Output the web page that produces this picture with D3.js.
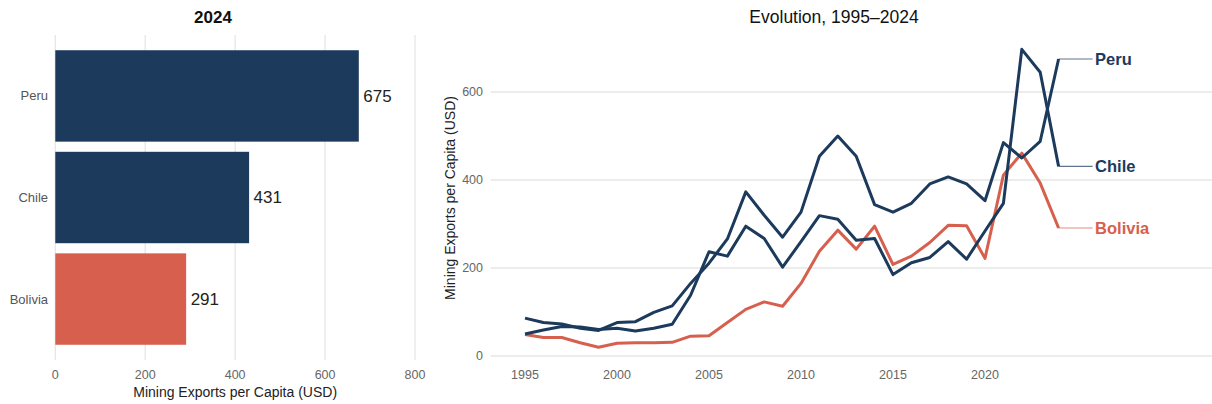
<!DOCTYPE html>
<html>
  <head>
    <meta charset="utf-8" />
    <title>Mining exports per capita</title>
    <script src="https://d3js.org/d3.v7.min.js"></script>
    <style>
      body { margin: 0; background: #fff; }
      text { font-family: "Liberation Sans", Arial, sans-serif; }
    </style>
  </head>
  <body>
    <script>
      // 2024 snapshot
      const countries = ["Peru", "Chile", "Bolivia"];
      const values2024 = [675, 431, 291];

      // evolution 1995-2024
      const years = [1995, 1996, 1997, 1998, 1999, 2000, 2001, 2002, 2003, 2004,
                     2005, 2006, 2007, 2008, 2009, 2010, 2011, 2012, 2013, 2014,
                     2015, 2016, 2017, 2018, 2019, 2020, 2021, 2022, 2023, 2024];
      const peru = [86, 76, 73, 63, 58, 76, 78, 99, 114, 165,
                    211, 266, 373, 320, 270, 327, 454, 500, 454, 344,
                    327, 347, 391, 407, 391, 353, 485, 450, 488, 675];
      const chile = [50, 59, 67, 66, 60, 63, 57, 63, 72, 138,
                     237, 227, 295, 267, 202, 260, 319, 311, 263, 267,
                     185, 212, 224, 260, 220, 284, 347, 697, 645, 431];
      const bolivia = [49, 42, 42, 30, 20, 29, 30, 30, 31, 45,
                       46, 76, 106, 123, 113, 165, 238, 286, 243, 295,
                       208, 227, 258, 297, 296, 222, 411, 461, 393, 291];

      const xTicksBar = [0, 200, 400, 600, 800];
      const yTicksLine = [0, 200, 400, 600];
      const xTicksLine = [1995, 2000, 2005, 2010, 2015, 2020];

      const navy = "#1c3a5c";
      const red = "#d6604d";
      const colorOf = { Peru: navy, Chile: navy, Bolivia: red };
      const grid = "#e6e6e6";

      const svg = d3.select("body").append("svg")
        .attr("width", 1212).attr("height", 404);

      // ---------- left: bar chart ----------
      const left = svg.append("g");
      const xb = d3.scaleLinear().domain([0, 800]).range([55.3, 415]);
      const yb = d3.scaleBand().domain(countries).range([35, 360])
        .paddingInner(0.1).paddingOuter(0.15);

      left.selectAll(".vgrid").data(xTicksBar).join("line")
        .attr("x1", d => xb(d)).attr("x2", d => xb(d))
        .attr("y1", 35).attr("y2", 360)
        .attr("stroke", grid).attr("stroke-width", 1.3);

      left.selectAll("rect").data(countries).join("rect")
        .attr("x", xb(0))
        .attr("y", d => yb(d))
        .attr("width", (d, i) => xb(values2024[i]) - xb(0))
        .attr("height", yb.bandwidth())
        .attr("fill", d => colorOf[d]);

      left.selectAll(".val").data(countries).join("text")
        .attr("x", (d, i) => xb(values2024[i]) + 4.5)
        .attr("y", d => yb(d) + yb.bandwidth() / 2)
        .attr("dy", "0.35em")
        .attr("font-size", 17).attr("fill", "#222")
        .text((d, i) => values2024[i]);

      left.selectAll(".cat").data(countries).join("text")
        .attr("x", 48)
        .attr("y", d => yb(d) + yb.bandwidth() / 2)
        .attr("dy", "0.35em")
        .attr("text-anchor", "end")
        .attr("font-size", 13).attr("fill", "#555")
        .text(d => d);

      left.selectAll(".xt").data(xTicksBar).join("text")
        .attr("x", d => xb(d)).attr("y", 375)
        .attr("dy", "0.35em")
        .attr("text-anchor", "middle")
        .attr("font-size", 12.5).attr("fill", "#666")
        .text(d => d);

      left.append("text")
        .attr("x", xb(400)).attr("y", 392).attr("dy", "0.35em")
        .attr("text-anchor", "middle")
        .attr("font-size", 14).attr("fill", "#222")
        .text("Mining Exports per Capita (USD)");

      left.append("text")
        .attr("x", 213).attr("y", 17).attr("dy", "0.35em")
        .attr("text-anchor", "middle")
        .attr("font-size", 17).attr("font-weight", "bold").attr("fill", "#111")
        .text("2024");

      // ---------- right: line chart ----------
      const right = svg.append("g");
      const xl = d3.scaleLinear().domain([1995, 2024]).range([525, 1058.6]);
      const yl = d3.scaleLinear().domain([0, 600]).range([356, 92]);

      right.selectAll(".hgrid").data(yTicksLine).join("line")
        .attr("x1", 491).attr("x2", 1212)
        .attr("y1", d => yl(d)).attr("y2", d => yl(d))
        .attr("stroke", grid).attr("stroke-width", 1.3);

      right.selectAll(".yt").data(yTicksLine).join("text")
        .attr("x", 483).attr("y", d => yl(d)).attr("dy", "0.35em")
        .attr("text-anchor", "end")
        .attr("font-size", 12.5).attr("fill", "#666")
        .text(d => d);

      right.selectAll(".xt").data(xTicksLine).join("text")
        .attr("x", d => xl(d)).attr("y", 375).attr("dy", "0.35em")
        .attr("text-anchor", "middle")
        .attr("font-size", 12.5).attr("fill", "#666")
        .text(d => d);

      right.append("text")
        .attr("transform", "translate(450,198) rotate(-90)")
        .attr("dy", "0.35em")
        .attr("text-anchor", "middle")
        .attr("font-size", 14).attr("fill", "#222")
        .text("Mining Exports per Capita (USD)");

      right.append("text")
        .attr("x", 834).attr("y", 17).attr("dy", "0.35em")
        .attr("text-anchor", "middle")
        .attr("font-family", "'Open Sans', 'Noto Sans', sans-serif")
        .attr("font-size", 17.5).attr("fill", "#111")
        .text("Evolution, 1995\u20132024");

      const series = [
        { name: "Bolivia", values: bolivia },
        { name: "Chile", values: chile },
        { name: "Peru", values: peru }
      ];

      const line = d3.line()
        .x((d, i) => xl(years[i]))
        .y(d => yl(d));

      right.selectAll(".series").data(series).join("path")
        .attr("d", d => line(d.values))
        .attr("fill", "none")
        .attr("stroke", d => colorOf[d.name])
        .attr("stroke-width", 3)
        .attr("stroke-linejoin", "round");

      const last = years.length - 1;
      right.selectAll(".conn").data(series).join("line")
        .attr("x1", xl(years[last])).attr("x2", xl(years[last]) + 34)
        .attr("y1", d => yl(d.values[last])).attr("y2", d => yl(d.values[last]))
        .attr("stroke", d => colorOf[d.name])
        .attr("stroke-opacity", 0.7)
        .attr("stroke-width", 1.1);

      right.selectAll(".lab").data(series).join("text")
        .attr("x", xl(years[last]) + 36.5)
        .attr("y", d => yl(d.values[last]))
        .attr("dy", "0.35em")
        .attr("font-size", 16.5).attr("font-weight", "bold")
        .attr("fill", d => colorOf[d.name])
        .text(d => d.name);
    </script>
  </body>
</html>
